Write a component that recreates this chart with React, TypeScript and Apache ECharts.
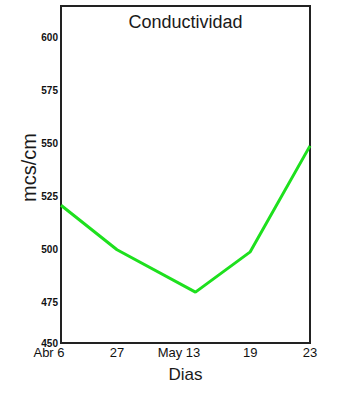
import React, { useEffect, useRef } from "react";
import * as echarts from "echarts";

const dayLabels = ["Abr 6", "27", "May 13", "19", "23"];
const dayPositions = [0, 9, 21.6, 30.4, 40];
const conductivity = [521, 500, 480, 499, 549];
const yTickValues = [456, 475, 500, 525, 550, 575, 600];
const yTickLabels = ["450", "475", "500", "525", "550", "575", "600"];
const labelShift = [24, 0, 33, 0, 0];

export default function App() {
  const ref = useRef<HTMLDivElement>(null);
  useEffect(() => {
    if (!ref.current) return;
    const chart = echarts.init(ref.current, null, { renderer: "svg" });
    const font = "'Liberation Sans', Arial, sans-serif";
    const rich: any = {};
    dayLabels.forEach((_, i) => {
      rich["l" + i] = {
        fontFamily: font,
        fontSize: 13,
        color: "#111",
        padding: [0, labelShift[i], 0, 0],
      };
    });
    const frameLine = { show: true, onZero: false, lineStyle: { color: "#222", width: 2 } };
    chart.setOption({
      animation: false,
      backgroundColor: "#fff",
      title: {
        text: "Conductividad",
        left: 185.5,
        textAlign: "center",
        top: 13,
        padding: 0,
        textStyle: { fontFamily: font, fontSize: 18, fontWeight: "normal", color: "#1a1a1a" },
      },
      grid: {
        left: 61,
        right: 42,
        top: 6,
        bottom: 77,
        show: true,
        borderColor: "#222",
        borderWidth: 2,
        backgroundColor: "#fff",
      },
      xAxis: [
        {
          type: "value",
          min: 0,
          max: 40,
          name: "Dias",
          nameLocation: "middle",
          nameGap: 23,
          nameMoveOverlap: false,
          nameTextStyle: { fontFamily: font, fontSize: 17, color: "#1a1a1a" },
          axisLine: frameLine,
          axisTick: { show: false },
          splitLine: { show: false },
          axisLabel: {
            customValues: dayPositions,
            margin: 3,
            formatter: (v: number) => {
              const i = dayPositions.indexOf(v);
              return i >= 0 ? `{l${i}|${dayLabels[i]}}` : "";
            },
            rich,
            fontFamily: font,
            fontSize: 13,
            color: "#111",
          },
        },
        {
          type: "value",
          position: "top",
          min: 0,
          max: 40,
          axisLine: frameLine,
          axisTick: { show: false },
          axisLabel: { show: false },
          splitLine: { show: false },
        },
      ],
      yAxis: [
        {
          type: "value",
          min: 456,
          max: 615,
          name: "mcs/cm",
          nameLocation: "middle",
          nameGap: 22,
          nameMoveOverlap: false,
          nameRotate: 90,
          nameTextStyle: { fontFamily: font, fontSize: 20, color: "#1a1a1a", padding: [0, 0, 0, 14] },
          axisLine: frameLine,
          axisTick: { show: false },
          splitLine: { show: false },
          axisLabel: {
            customValues: yTickValues,
            margin: 3,
            formatter: (v: number) => {
              const i = yTickValues.indexOf(v);
              return i >= 0 ? yTickLabels[i] : "";
            },
            fontFamily: font,
            fontSize: 10,
            fontWeight: "bold",
            color: "#111",
          },
        },
        {
          type: "value",
          position: "right",
          min: 456,
          max: 615,
          axisLine: frameLine,
          axisTick: { show: false },
          axisLabel: { show: false },
          splitLine: { show: false },
        },
      ],
      series: [
        {
          type: "line",
          data: dayPositions.map((x, i) => [x, conductivity[i]]),
          showSymbol: false,
          lineStyle: { color: "#1ee01e", width: 3 },
          itemStyle: { color: "#1ee01e" },
        },
      ],
    });
    return () => chart.dispose();
  }, []);
  return <div ref={ref} style={{ width: 352, height: 420, position: "fixed", left: 0, top: 0 }} />;
}
